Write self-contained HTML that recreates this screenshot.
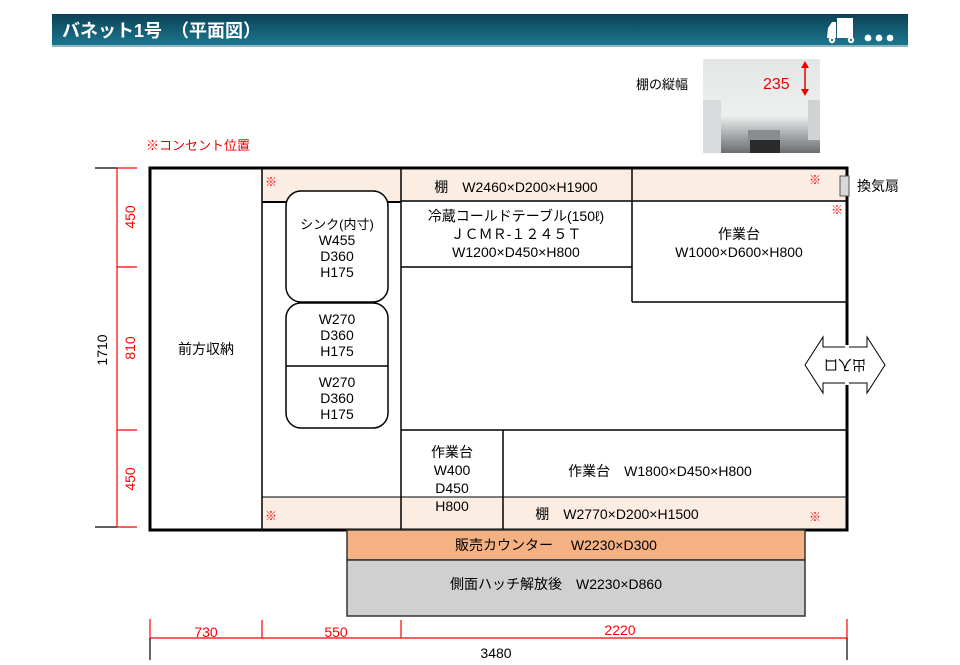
<!DOCTYPE html>
<html><head><meta charset="utf-8"><style>
html,body{margin:0;padding:0;background:#fff;}
svg{display:block;font-family:"Liberation Sans","Noto Sans CJK JP",sans-serif;}
</style></head><body>
<svg width="960" height="665" viewBox="0 0 960 665" xmlns="http://www.w3.org/2000/svg">
<defs>
<linearGradient id="hg" x1="0" y1="0" x2="0" y2="1"><stop offset="0" stop-color="#0d4257"/><stop offset="1" stop-color="#1b7890"/></linearGradient>
<linearGradient id="ph" x1="0" y1="0" x2="0" y2="1"><stop offset="0" stop-color="#e4e6e6"/><stop offset="0.6" stop-color="#eef0f0"/><stop offset="0.8" stop-color="#a9adaf"/><stop offset="1" stop-color="#6b6e70"/></linearGradient>
</defs>
<!-- header -->
<rect x="52" y="14" width="856" height="32" fill="url(#hg)"/>
<rect x="52" y="45" width="856" height="2" fill="#8fb8c4"/>
<text x="62" y="37" font-size="18" font-weight="bold" fill="#fff">バネット1号　（平面図）</text>
<!-- truck -->
<g fill="#fff">
<rect x="837" y="18" width="16" height="20"/>
<path d="M828 28 L832 22 L836 22 L836 38 L827 38 Z"/>
<circle cx="832" cy="40" r="3.2"/><circle cx="851" cy="40" r="3.2"/>
<circle cx="868" cy="38" r="3.4"/><circle cx="879" cy="38" r="3.4"/><circle cx="890" cy="38" r="3.4"/>
</g>
<circle cx="832" cy="40" r="1.1" fill="#1b6e84"/><circle cx="851" cy="40" r="1.1" fill="#1b6e84"/>
<!-- photo -->
<text x="636" y="89" font-size="13" fill="#000">棚の縦幅</text>
<rect x="703" y="59" width="117" height="94" fill="url(#ph)"/>
<rect x="703" y="100" width="18" height="53" fill="#d8dcdc"/>
<rect x="808" y="100" width="12" height="40" fill="#cfd3d3"/>
<rect x="748" y="130" width="32" height="14" fill="#8a8d8f"/>
<rect x="750" y="140" width="30" height="13" fill="#2a2a2a"/>
<text x="763" y="89" font-size="16" fill="#e00">235</text>
<line x1="805" y1="63" x2="805" y2="94" stroke="#e00" stroke-width="1.5"/>
<path d="M801 68 L805 61 L809 68 Z M801 89 L805 96 L809 89 Z" fill="#e00"/>
<text x="146" y="150" font-size="13" fill="#e00">※コンセント位置</text>
<!-- shelves -->
<rect x="262" y="170" width="584" height="32" fill="#fcede3"/>
<rect x="262" y="497" width="584" height="32" fill="#fcede3"/>
<!-- outer box -->
<rect x="150" y="168" width="697" height="362" fill="none" stroke="#000" stroke-width="3"/>
<g stroke="#000" fill="none">
<line x1="262" y1="168" x2="262" y2="530" stroke-width="1.5"/>
<line x1="401" y1="168" x2="401" y2="530" stroke-width="1.5"/>
<line x1="262" y1="202" x2="401" y2="202" stroke-width="2"/>
<line x1="401" y1="201" x2="846" y2="201" stroke-width="1.5"/>
<line x1="632" y1="168" x2="632" y2="302" stroke-width="1.5"/>
<line x1="401" y1="267" x2="632" y2="267" stroke-width="1.5"/>
<line x1="632" y1="302" x2="846" y2="302" stroke-width="1.5"/>
<line x1="401" y1="430" x2="846" y2="430" stroke-width="1.5"/>
<line x1="503" y1="430" x2="503" y2="530" stroke-width="1.5"/>
<line x1="262" y1="497" x2="401" y2="497" stroke-width="1"/>
<line x1="401" y1="497" x2="846" y2="497" stroke-width="1"/>
<rect x="286" y="191" width="102" height="111" rx="15" stroke-width="1.5" fill="#fff"/>
<rect x="286" y="303" width="102" height="125" rx="15" stroke-width="1.5" fill="#fff"/>
<line x1="286" y1="366" x2="388" y2="366" stroke-width="1.5"/>
</g>
<!-- fan -->
<rect x="840" y="176" width="9" height="20" fill="#d8d8d8" stroke="#555"/>
<text x="857" y="191" font-size="14">換気扇</text>
<!-- counter -->
<rect x="347" y="530" width="458" height="30" fill="#f4b183" stroke="#333" stroke-width="1.5"/>
<rect x="347" y="560" width="458" height="56" fill="#d0d0d0" stroke="#333" stroke-width="1.5"/>
<g font-size="14" text-anchor="middle" fill="#000">
<text x="556" y="550">販売カウンター　 W2230×D300</text>
<text x="556" y="589">側面ハッチ解放後　W2230×D860</text>
<text x="206" y="354">前方収納</text>
<text x="337" y="229" font-size="13">シンク(内寸)</text>
<text x="337" y="245">W455</text><text x="337" y="261">D360</text><text x="337" y="277">H175</text>
<text x="337" y="324">W270</text><text x="337" y="340">D360</text><text x="337" y="356">H175</text>
<text x="337" y="387">W270</text><text x="337" y="403">D360</text><text x="337" y="419">H175</text>
<text x="516" y="192">棚　W2460×D200×H1900</text>
<text x="516" y="221">冷蔵コールドテーブル(150ℓ)</text>
<text x="516" y="239">ＪＣＭＲ-１２４５Ｔ</text>
<text x="516" y="257">W1200×D450×H800</text>
<text x="739" y="239">作業台</text>
<text x="739" y="257">W1000×D600×H800</text>
<text x="452" y="457">作業台</text>
<text x="452" y="475">W400</text><text x="452" y="493">D450</text><text x="452" y="511">H800</text>
<text x="660" y="476">作業台　W1800×D450×H800</text>
<text x="617" y="519">棚　W2770×D200×H1500</text>
</g>
<g fill="#f00" font-size="12">
<text x="265" y="186">※</text><text x="809" y="184">※</text><text x="831" y="214">※</text>
<text x="265" y="520">※</text><text x="809" y="521">※</text>
</g>
<!-- entrance arrow -->
<path d="M805 365 L823 337 L823 347 L867 347 L867 337 L885 365 L867 393 L867 383 L823 383 L823 393 Z" fill="#fff" stroke="#000" stroke-width="1"/>
<line x1="847" y1="345" x2="847" y2="385" stroke="#fff" stroke-width="4"/>
<text x="845" y="370" font-size="14" text-anchor="middle" transform="rotate(180 845 365)">出入口</text>
<!-- left dims -->
<g stroke="#000" stroke-width="1.2">
<line x1="95" y1="168" x2="117" y2="168"/><line x1="95" y1="527" x2="117" y2="527"/>
</g>
<g stroke="#f00" stroke-width="1.2">
<line x1="117" y1="168" x2="117" y2="527"/>
<line x1="117" y1="168" x2="137" y2="168"/><line x1="117" y1="267" x2="137" y2="267"/>
<line x1="117" y1="430" x2="137" y2="430"/><line x1="117" y1="527" x2="137" y2="527"/>
</g>
<text x="0" y="0" font-size="14" text-anchor="middle" transform="translate(107 350) rotate(-90)">1710</text>
<g fill="#f00" font-size="14" text-anchor="middle">
<text transform="translate(135 217) rotate(-90)">450</text>
<text transform="translate(135 348) rotate(-90)">810</text>
<text transform="translate(135 479) rotate(-90)">450</text>
</g>
<!-- bottom dims -->
<g stroke="#f00" stroke-width="1.2">
<line x1="150" y1="638" x2="847" y2="638"/>
<line x1="150" y1="619" x2="150" y2="638"/><line x1="262" y1="620" x2="262" y2="638"/>
<line x1="401" y1="620" x2="401" y2="638"/><line x1="847" y1="619" x2="847" y2="638"/>
</g>
<g stroke="#000" stroke-width="1.2">
<line x1="150" y1="638" x2="150" y2="660"/><line x1="847" y1="638" x2="847" y2="660"/>
</g>
<g fill="#f00" font-size="14" text-anchor="middle">
<text x="206" y="637">730</text><text x="336" y="637">550</text><text x="620" y="635">2220</text>
</g>
<text x="496" y="658" font-size="14" text-anchor="middle">3480</text>
</svg>
</body></html>
